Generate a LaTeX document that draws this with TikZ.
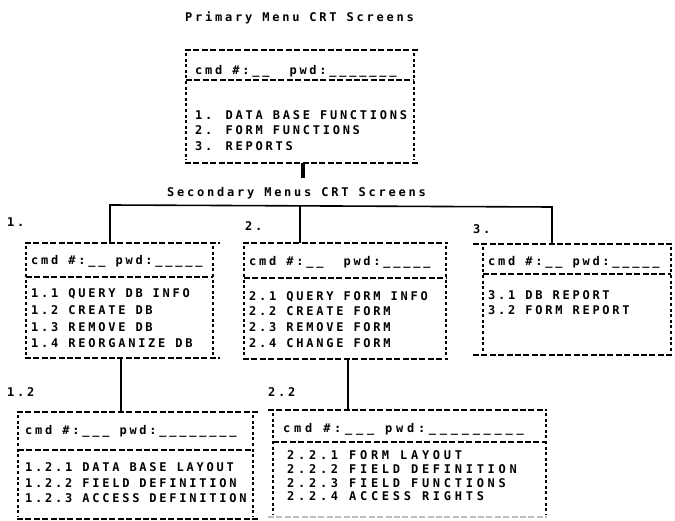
\documentclass[tikz,border=0pt]{standalone}
\usepackage{fontspec}
\newfontfamily\dmA{DejaVu Sans Mono}[LetterSpace=23]
\newfontfamily\dmB{DejaVu Sans Mono}[LetterSpace=31]
\newcommand\fa{\dmA\bfseries\fontsize{12pt}{14pt}\selectfont}
\newcommand\fb{\dmB\bfseries\fontsize{12pt}{14pt}\selectfont}
% #1 node, #2 left extension, #3 right extension, #4 header separator y, #5 bottom colour
\newcommand\crtbox[5]{%
  \draw[hl] ([xshift=-#2pt]#1.north west) -- ([xshift=#3pt]#1.north east);
  \draw[hl,#5] ([xshift=-#2pt]#1.south west) -- ([xshift=#3pt]#1.south east);
  \draw[vl] (#1.north west) -- (#1.south west);
  \draw[vl] (#1.north east) -- (#1.south east);
  \draw[hl] (#1.west |- 0,#4) -- (#1.east |- 0,#4);
}
\begin{document}
\begin{tikzpicture}[x=1pt,y=-1pt,
  txt/.style={font=\fa, inner sep=0pt, anchor=base west},
  wtxt/.style={font=\fb, inner sep=0pt, anchor=base west},
  area/.style={inner sep=0pt, outer sep=0pt, anchor=north west},
  hl/.style={line width=1.7pt, dash pattern=on 6pt off 2.4pt},
  vl/.style={line width=1.5pt, dash pattern=on 3pt off 2.6pt, shorten <=3pt, shorten >=3pt},
  bus/.style={line width=1.6pt},
  stem/.style={line width=2.6pt},
]
\useasboundingbox (0,0) rectangle (675,521);

% box areas
\node[area, minimum width=228pt, minimum height=113pt] (p)   at (186,50)  {};
\node[area, minimum width=187pt, minimum height=115pt] (b1)  at (26,243)  {};
\node[area, minimum width=202pt, minimum height=116pt] (b2)  at (244,243) {};
\node[area, minimum width=188pt, minimum height=111pt] (b3)  at (483,244) {};
\node[area, minimum width=235pt, minimum height=107pt] (b12) at (18,412)  {};
\node[area, minimum width=273pt, minimum height=107pt] (b22) at (273,410) {};

\crtbox{p}{1}{6}{80}{black}
\crtbox{b1}{1}{7}{277}{black}
\crtbox{b2}{1}{2}{278}{black}
\crtbox{b3}{10}{4}{274}{black}
\crtbox{b12}{1}{5}{450}{black}
\crtbox{b22}{5}{1}{442}{black!25}

% titles
\node[txt] (t1) at (185,21.5)  {Primary Menu CRT Screens};
\node[txt] (t2) at (167,196.5) {Secondary Menus CRT Screens};

% primary menu
\node[txt] (ph) at (195,74.5)  {cmd \#:\_\_\ \ pwd:\_\_\_\_\_\_\_};
\node[txt] (p1) at (195,119.5) {1. DATA BASE FUNCTIONS};
\node[txt] (p2) at (195,134.5) {2. FORM FUNCTIONS};
\node[txt] (p3) at (195,150.5) {3. REPORTS};

% labels
\node[txt] (l1)  at (7,226.5)   {1.};
\node[txt] (l2)  at (245,230.5) {2.};
\node[txt] (l3)  at (473,233.5) {3.};
\node[txt] (l12) at (7,396.5)   {1.2};
\node[txt] (l22) at (268,396.5) {2.2};

% box 1
\node[txt] (b1h) at (31,264.5) {cmd \#:\_\_ pwd:\_\_\_\_\_};
\node[txt] (b1a) at (31,297.5) {1.1 QUERY DB INFO};
\node[txt] (b1b) at (31,314.5) {1.2 CREATE DB};
\node[txt] (b1c) at (31,331.5) {1.3 REMOVE DB};
\node[txt] (b1d) at (31,347.5) {1.4 REORGANIZE DB};

% box 2
\node[txt] (b2h) at (249,265.5) {cmd \#:\_\_\ \ pwd:\_\_\_\_\_};
\node[txt] (b2a) at (249,300.5) {2.1 QUERY FORM INFO};
\node[txt] (b2b) at (249,315.5) {2.2 CREATE FORM};
\node[txt] (b2c) at (249,331.5) {2.3 REMOVE FORM};
\node[txt] (b2d) at (249,347.5) {2.4 CHANGE FORM};

% box 3
\node[txt] (b3h) at (488,265.5) {cmd \#:\_\_ pwd:\_\_\_\_\_};
\node[txt] (b3a) at (488,299.5) {3.1 DB REPORT};
\node[txt] (b3b) at (488,314.5) {3.2 FORM REPORT};

% box 1.2
\node[txt] (c1h) at (25,434.5) {cmd \#:\_\_\_ pwd:\_\_\_\_\_\_\_\_};
\node[txt] (c1a) at (25,471.5) {1.2.1 DATA BASE LAYOUT};
\node[txt] (c1b) at (25,487.5) {1.2.2 FIELD DEFINITION};
\node[txt] (c1c) at (25,502.5) {1.2.3 ACCESS DEFINITION};

% box 2.2
\node[wtxt] (c2h) at (283,432)   {cmd \#:\_\_\_ pwd:\_\_\_\_\_\_\_\_\_};
\node[wtxt] (c2a) at (287,459.5) {2.2.1 FORM LAYOUT};
\node[wtxt] (c2b) at (287,473.5) {2.2.2 FIELD DEFINITION};
\node[wtxt] (c2c) at (287,487.5) {2.2.3 FIELD FUNCTIONS};
\node[wtxt] (c2d) at (287,500.5) {2.2.4 ACCESS RIGHTS};

% connectors
\coordinate (pstub) at (303,178);
\draw[stem, line width=3.2pt] (pstub |- p.south) -- (pstub);
\coordinate (busL) at (110,205);
\coordinate (busM) at (300,206);
\coordinate (busR) at (552,207);
\draw[bus] (busL |- b1.north) -- (busL) -- (busR) -- (busR |- b3.north);
\draw[bus] (busM) -- (busM |- b2.north);
\coordinate (c12) at (121,0);
\draw[stem] (c12 |- b1.south) -- (c12 |- b12.north);
\coordinate (c22) at (348,0);
\draw[stem] (c22 |- b2.south) -- (c22 |- b22.north);
\end{tikzpicture}
\end{document}
